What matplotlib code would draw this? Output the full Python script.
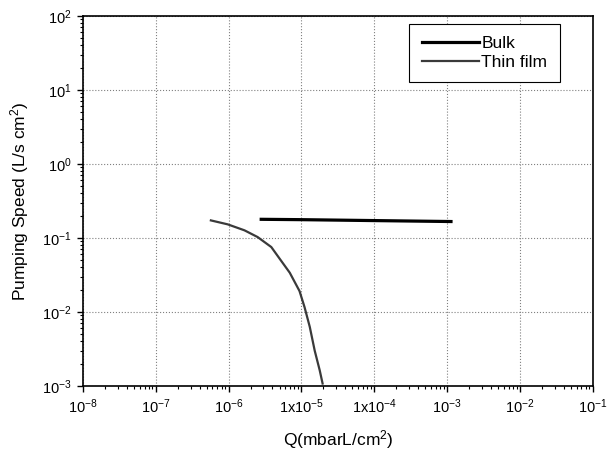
import matplotlib
matplotlib.use('Agg')
import matplotlib.pyplot as plt
import matplotlib.ticker as mticker

plt.rcParams['font.family'] = ['Liberation Sans', 'DejaVu Sans']
plt.rcParams['mathtext.fontset'] = 'custom'
plt.rcParams['mathtext.rm'] = 'Liberation Sans'
plt.rcParams['mathtext.it'] = 'Liberation Sans:italic'
plt.rcParams['mathtext.bf'] = 'Liberation Sans:bold'

# data
bulk_q = [2.8e-6, 1e-5, 1e-4, 1.13e-3]
bulk_s = [0.179, 0.177, 0.172, 0.167]

thin_q = [5.7e-7, 9.7e-7, 1.65e-6, 2.5e-6, 3.85e-6, 5.2e-6, 6.9e-6,
          9.4e-6, 1.1e-5, 1.3e-5, 1.52e-5, 1.78e-5, 1.95e-5]
thin_s = [0.173, 0.153, 0.127, 0.103, 0.0755, 0.050, 0.034,
          0.0192, 0.0117, 0.0063, 0.0030, 0.00163, 0.00108]

xticks = [1e-8, 1e-7, 1e-6, 1e-5, 1e-4, 1e-3, 1e-2, 1e-1]
xticklabels = [r'$10^{-8}$', r'$10^{-7}$', r'$10^{-6}$', r'1x$10^{-5}$',
               r'1x$10^{-4}$', r'$10^{-3}$', r'$10^{-2}$', r'$10^{-1}$']
yticks = [1e-3, 1e-2, 1e-1, 1e0, 1e1, 1e2]
yticklabels = [r'$10^{-3}$', r'$10^{-2}$', r'$10^{-1}$', r'$10^{0}$',
               r'$10^{1}$', r'$10^{2}$']

fig = plt.figure(figsize=(6.13, 4.5), dpi=100)
ax = fig.add_axes([0.1354, 0.1422, 0.967 - 0.1354, 0.9644 - 0.1422])

ax.plot(bulk_q, bulk_s, color='black', linewidth=2.3, label='Bulk')
ax.plot(thin_q, thin_s, color='#3a3a3a', linewidth=1.6, label='Thin film',
        solid_joinstyle='round')

ax.set_xscale('log')
ax.set_yscale('log')
ax.set_xlim(1e-8, 1e-1)
ax.set_ylim(1e-3, 1e2)

ax.set_xticks(xticks)
ax.set_xticklabels(xticklabels)
ax.set_yticks(yticks)
ax.set_yticklabels(yticklabels)
ax.xaxis.set_minor_locator(mticker.LogLocator(base=10, subs=range(2, 10), numticks=20))
ax.yaxis.set_minor_locator(mticker.LogLocator(base=10, subs=range(2, 10), numticks=20))
ax.xaxis.set_minor_formatter(mticker.NullFormatter())
ax.yaxis.set_minor_formatter(mticker.NullFormatter())

ax.tick_params(which='major', direction='out', length=4, width=1, labelsize=10.5, pad=4)
ax.tick_params(which='minor', direction='out', length=2.5, width=0.8)

ax.grid(which='major', color='#808080', linestyle=':', linewidth=0.8)
for s in ax.spines.values():
    s.set_linewidth(1.2)

ax.set_xlabel(r'Q(mbarL/cm$^{2}$)', fontsize=12.5, labelpad=9)
ax.set_ylabel(r'Pumping Speed (L/s cm$^{2}$)', fontsize=12.5, labelpad=8)

leg = ax.legend(loc='upper right', bbox_to_anchor=(0.935, 0.978), borderaxespad=0,
                fontsize=12.5, fancybox=False, edgecolor='black', framealpha=1,
                handlelength=3.3, handletextpad=0.15, labelspacing=0.2,
                borderpad=0.7)
leg.get_frame().set_linewidth(0.8)

fig.savefig('out.png', dpi=100)
